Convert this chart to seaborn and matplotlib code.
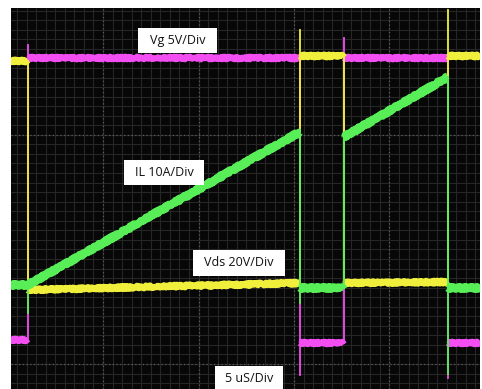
import numpy as np
import pandas as pd
import matplotlib
matplotlib.use("Agg")
import matplotlib.pyplot as plt
from matplotlib.patches import Rectangle
import seaborn as sns

# ---- scope capture: time in microseconds (5 uS per major division) ----
t_view = [-4.82, 19.74]
t_edges = [-3.93, 10.31, 12.62, 18.06]          # gate switching instants

# trace levels on screen (pixel rows above the bottom edge),
# value at the start and end of each interval between edges
vg_start = [49, 331, 46, 331, 46]
vg_end = [49, 331, 46, 331, 46]
vds_start = [328, 99, 333, 106, 333]
vds_end = [328, 106, 333, 107, 333]
il_start = [104, 104, 101, 252, 101]
il_end = [104, 257, 101, 312, 101]

# extreme excursion of each trace at each switching edge
vg_spike = [344, 14, 351, 11]
vds_spike = [99, 359, 106, 379]
il_spike = [76, 86, 101, 15]

channel_labels = ["Vg 5V/Div", "IL 10A/Div", "Vds 20V/Div"]
time_label = "5 uS/Div"

colors = {"Vg": "#f24ef2", "Vds": "#f0f03c", "IL": "#58ee58"}
widths = {"Vg": 4.4, "Vds": 4.6, "IL": 5.4}

W, H = 482, 389
fig = plt.figure(figsize=(W / 100, H / 100), dpi=100, facecolor="white")
ax = fig.add_axes([11 / W, 0, 469 / W, 381 / H])
ax.set_xlim(t_view)
ax.set_ylim(0, 381)
ax.set_facecolor("#070707")
for s in ax.spines.values():
    s.set_visible(False)
ax.set_xticks([])
ax.set_yticks([])

# graticule: fine grid plus dotted major lines
fine_x = np.arange(-4.5, 19.75, 0.5)
fine_y = np.arange(25 - 2 * 9.55, 381, 9.55)
ax.vlines(fine_x, 0, 381, colors="#262626", lw=0.8, zorder=0)
ax.hlines(fine_y, *t_view, colors="#262626", lw=0.8, zorder=0)
ax.vlines([0, 5, 10, 15], 0, 381, colors="#5c5c5c", lw=0.9,
          linestyles=(0, (1, 2)), zorder=0.5)
ax.hlines([25, 254], *t_view, colors="#5c5c5c", lw=0.9,
          linestyles=(0, (1, 2)), zorder=0.5)

bounds = [t_view[0]] + t_edges + [t_view[1]]


def trace_frames(start, end, spike):
    rows = []
    for i in range(len(start)):
        rows.append((i, bounds[i], start[i]))
        rows.append((i, bounds[i + 1], end[i]))
    plateau = pd.DataFrame(rows, columns=["seg", "t", "level"])
    erows = []
    for k, te in enumerate(t_edges):
        vals = [end[k], start[k + 1], spike[k]]
        erows.append((k, te, min(vals)))
        erows.append((k, te, max(vals)))
    edges = pd.DataFrame(erows, columns=["seg", "t", "level"])
    return plateau, edges


order = [("Vg", vg_start, vg_end, vg_spike),
         ("Vds", vds_start, vds_end, vds_spike),
         ("IL", il_start, il_end, il_spike)]
z = {"Vg": 2, "Vds": 3, "IL": 4}
for name, st, en, sp in order:
    plateau, edges = trace_frames(st, en, sp)
    n0 = len(ax.lines)
    sns.lineplot(data=plateau, x="t", y="level", units="seg", estimator=None,
                 sort=False, color=colors[name], lw=widths[name], ax=ax,
                 legend=False, solid_capstyle="butt")
    for ln in ax.lines[n0:]:
        ln.set_sketch_params(scale=1.3, length=0.7, randomness=4)
        ln.set_zorder(z[name])
    n1 = len(ax.lines)
    sns.lineplot(data=edges, x="t", y="level", units="seg", estimator=None,
                 sort=False, color=colors[name], lw=1.3, ax=ax, legend=False)
    for ln in ax.lines[n1:]:
        ln.set_zorder(z[name] + 0.5)

ax.set_xlabel("")
ax.set_ylabel("")


def label_box(text, x0, x1, y0, y1):
    fig.patches.append(Rectangle((x0 / W, 1 - y1 / H), (x1 - x0) / W,
                                 (y1 - y0) / H, transform=fig.transFigure,
                                 facecolor="white", edgecolor="none",
                                 zorder=10))
    fig.text((x0 + x1) / 2 / W, 1 - (y0 + y1) / 2 / H, text,
             ha="center", va="center", fontsize=9, color="#111111",
             family=["Open Sans", "DejaVu Sans"], zorder=11)


label_box(channel_labels[0], 138, 217, 28, 53)
label_box(channel_labels[1], 124, 204, 160, 185)
label_box(channel_labels[2], 193, 285, 250, 276)
label_box(time_label, 215, 283, 366, 392)

fig.savefig("out.png", dpi=100, facecolor="white")
